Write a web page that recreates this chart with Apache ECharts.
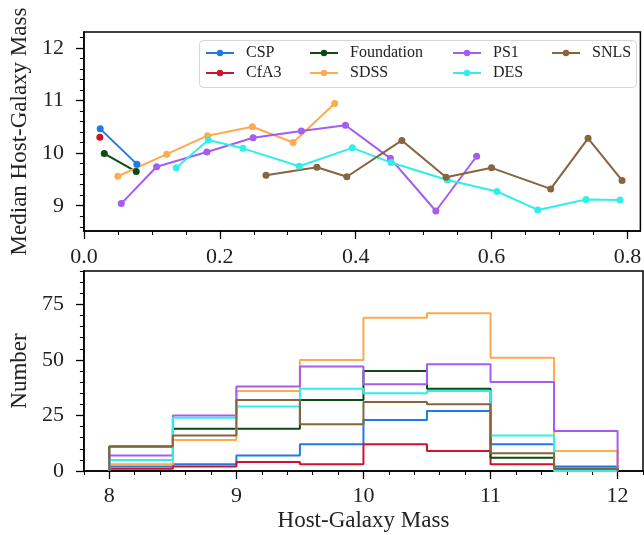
<!DOCTYPE html>
<html>
<head>
<meta charset="utf-8">
<title>Host-galaxy mass by survey</title>
<script src="https://cdn.jsdelivr.net/npm/echarts@6.0.0/dist/echarts.min.js"></script>
<style>
  html, body { margin: 0; padding: 0; background: #fff; }
  #chart { width: 644px; height: 535px; }
</style>
</head>
<body>
<div id="chart"></div>
<script>
// surveys and colours
var surveys = ['CSP', 'CfA3', 'Foundation', 'SDSS', 'PS1', 'DES', 'SNLS'];
var colors = ['#1f7be4', '#d0122d', '#0e4b12', '#fdab4e', '#a45cf1', '#30efe8', '#86643e'];

// top panel: median host-galaxy mass, points [x, median]
var cspMedian = [[0.024, 10.46], [0.078, 9.79]];
var cfa3Median = [[0.0235, 10.30]];
var foundationMedian = [[0.030, 9.99], [0.077, 9.65]];
var sdssMedian = [[0.050, 9.56], [0.122, 9.98], [0.182, 10.33], [0.248, 10.50], [0.308, 10.20], [0.369, 10.94]];
var ps1Median = [[0.055, 9.04], [0.107, 9.74], [0.181, 10.02], [0.249, 10.29], [0.320, 10.42], [0.385, 10.53],
  [0.451, 9.90], [0.518, 8.90], [0.578, 9.94]];
var desMedian = [[0.136, 9.72], [0.183, 10.25], [0.234, 10.09], [0.317, 9.75], [0.395, 10.10], [0.452, 9.82],
  [0.535, 9.49], [0.608, 9.27], [0.668, 8.92], [0.739, 9.12], [0.789, 9.11]];
var snlsMedian = [[0.268, 9.58], [0.343, 9.73], [0.387, 9.55], [0.468, 10.24], [0.533, 9.54], [0.600, 9.72],
  [0.687, 9.32], [0.742, 10.28], [0.792, 9.48]];

// bottom panel: histogram of host-galaxy mass
var binEdges = [8, 8.5, 9, 9.5, 10, 10.5, 11, 11.5, 12];
var cspCounts = [2, 3, 7, 12, 23, 27, 12, 2];
var cfa3Counts = [1, 2, 4, 3, 12, 9, 3, 0];
var foundationCounts = [11, 19, 19, 32, 45, 37, 6, 1];
var sdssCounts = [3, 14, 36, 50, 69, 71, 51, 9];
var ps1Counts = [7, 25, 38, 47, 39, 48, 40, 18];
var desCounts = [5, 24, 29, 37, 35, 36, 16, 0];
var snlsCounts = [11, 16, 32, 21, 31, 30, 8, 1];

// tick values
var topXTicks = [0, 0.2, 0.4, 0.6, 0.8];
var topYTicks = [9, 10, 11, 12];
var botXTicks = [8, 9, 10, 11, 12];
var botYTicks = [0, 25, 50, 75];

var medians = [cspMedian, cfa3Median, foundationMedian, sdssMedian, ps1Median, desMedian, snlsMedian];
var counts = [cspCounts, cfa3Counts, foundationCounts, sdssCounts, ps1Counts, desCounts, snlsCounts];

function steps(from, to, step) {
  var out = [];
  var n = Math.round((to - from) / step);
  for (var i = 0; i <= n; i++) out.push(+(from + i * step).toFixed(4));
  return out;
}

// outline of a step histogram, drawn with step: 'start'
function histLine(c) {
  var pts = [[binEdges[0], 0]];
  for (var i = 0; i < c.length; i++) pts.push([binEdges[i + 1], c[i]]);
  pts.push([binEdges[binEdges.length - 1], 0]);
  return pts;
}

var font = "'Liberation Serif', 'DejaVu Serif', serif";
var black = '#000';

function majorAxis(grid, min, max, ticks, extra) {
  return Object.assign({
    type: 'value', gridIndex: grid, min: min, max: max,
    axisLine: { show: true, lineStyle: { color: black, width: 1.5 } },
    axisTick: { show: true, length: 8, customValues: ticks, lineStyle: { color: black, width: 1.3 } },
    splitLine: { show: false },
    nameTextStyle: { color: '#222', fontFamily: font, fontSize: 23 }
  }, extra);
}

function minorAxis(grid, min, max, ticks, pos) {
  return {
    type: 'value', gridIndex: grid, min: min, max: max, position: pos,
    axisLine: { show: false },
    axisTick: { show: true, length: 4, customValues: ticks, lineStyle: { color: black, width: 1 } },
    axisLabel: { show: false },
    splitLine: { show: false }
  };
}

function label(ticks, margin, fmt) {
  return { customValues: ticks, formatter: fmt, color: '#222', fontFamily: font, fontSize: 22, margin: margin };
}

var series = [];
surveys.forEach(function (name, i) {
  series.push({
    name: name, type: 'line', xAxisIndex: 0, yAxisIndex: 0,
    data: medians[i], symbol: 'circle', symbolSize: 7,
    itemStyle: { color: colors[i] },
    lineStyle: { color: colors[i], width: 2 }
  });
});
surveys.forEach(function (name, i) {
  series.push({
    name: name, type: 'line', xAxisIndex: 2, yAxisIndex: 2,
    data: histLine(counts[i]), step: 'start', symbol: 'none',
    itemStyle: { color: colors[i] },
    lineStyle: { color: colors[i], width: 2 }
  });
});

// matplotlib-like legend: 4 columns of 2
var legendCols = [[0, 1], [2, 3], [4, 5], [6]];
var legendLeft = [205, 309, 452, 551];
var legends = legendCols.map(function (idx, k) {
  return {
    orient: 'vertical', left: legendLeft[k], top: 45, padding: 0, z: 20,
    itemWidth: 28, itemHeight: 8, itemGap: 4,
    data: idx.map(function (i) { return surveys[i]; }),
    textStyle: { fontFamily: font, fontSize: 16, color: '#222', padding: [0, 0, 0, 7] },
    selectedMode: false
  };
});

var chart = echarts.init(document.getElementById('chart'));
chart.setOption({
  animation: false,
  backgroundColor: '#fff',
  graphic: [{
    type: 'rect', left: 199, top: 40, z: 1,
    shape: { width: 437, height: 47, r: 4 },
    style: { fill: 'rgba(255,255,255,0.85)', stroke: '#d6d6d6', lineWidth: 1 }
  }],
  legend: legends,
  grid: [
    { left: 74, top: 32, width: 569, height: 199, show: true, borderColor: black, borderWidth: 1.5 },
    { left: 74, top: 271, width: 569, height: 200, show: true, borderColor: black, borderWidth: 1.5 }
  ],
  xAxis: [
    majorAxis(0, 0, 0.819, topXTicks, { axisLabel: label(topXTicks, 15, function (v) { return v.toFixed(1); }) }),
    minorAxis(0, 0, 0.819, steps(0, 0.8, 0.05), 'bottom'),
    majorAxis(1, 7.8, 12.2, botXTicks, {
      name: 'Host-Galaxy Mass', nameLocation: 'middle', nameGap: 38,
      axisLabel: label(botXTicks, 14)
    }),
    minorAxis(1, 7.8, 12.2, steps(7.8, 12.2, 0.2), 'bottom')
  ],
  yAxis: [
    majorAxis(0, 8.52, 12.3, topYTicks, {
      name: 'Median Host-Galaxy Mass', nameLocation: 'middle', nameGap: 44,
      axisLabel: label(topYTicks, 20)
    }),
    minorAxis(0, 8.52, 12.3, steps(8.6, 12.2, 0.2), 'left'),
    majorAxis(1, 0, 90, botYTicks, {
      name: 'Number', nameLocation: 'middle', nameGap: 44,
      axisLabel: label(botYTicks, 20)
    }),
    minorAxis(1, 0, 90, steps(0, 90, 5), 'left')
  ],
  series: series
});
</script>
</body>
</html>
